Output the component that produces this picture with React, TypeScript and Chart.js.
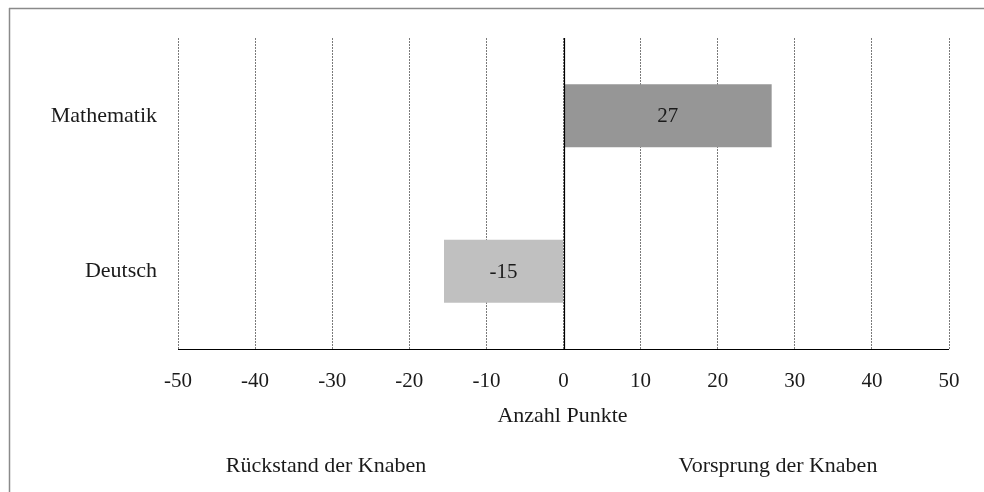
import React, { useEffect, useRef } from "react";
import { Chart, registerables } from "chart.js";

Chart.register(...registerables);

const categories = ["Mathematik", "Deutsch"];
const values = [27, -15.5];
const valueLabels = ["27", "-15"];
const barColors = ["#969696", "#c0c0c0"];
const xTicks = [-50, -40, -30, -20, -10, 0, 10, 20, 30, 40, 50];
const axisTitle = "Anzahl Punkte";
const leftNote = "Rückstand der Knaben";
const rightNote = "Vorsprung der Knaben";

const FONT_FAMILY = "'Liberation Serif', 'DejaVu Serif', serif";
const TICK_SIZE = 21;
const TEXT_SIZE = 22;

export default function App() {
  const ref = useRef<HTMLCanvasElement | null>(null);

  useEffect(() => {
    if (!ref.current) return;

    const extras = {
      id: "extras",
      beforeDraw(chart: any) {
        const ctx = chart.ctx;
        ctx.save();
        ctx.fillStyle = "#ffffff";
        ctx.fillRect(0, 0, chart.width, chart.height);
        ctx.strokeStyle = "#8a8a8a";
        ctx.lineWidth = 1.5;
        ctx.beginPath();
        ctx.moveTo(9, 8.5);
        ctx.lineTo(chart.width, 8.5);
        ctx.moveTo(9.5, 8);
        ctx.lineTo(9.5, chart.height);
        ctx.stroke();
        ctx.restore();
      },
      afterDatasetsDraw(chart: any) {
        const ctx = chart.ctx;
        const xs = chart.scales.x;
        const area = chart.chartArea;
        ctx.save();
        const x0 = Math.round(xs.getPixelForValue(0)) + 0.5;
        ctx.strokeStyle = "#000000";
        ctx.lineWidth = 1.2;
        ctx.beginPath();
        ctx.moveTo(x0, area.top);
        ctx.lineTo(x0, area.bottom);
        ctx.stroke();
        ctx.beginPath();
        ctx.moveTo(area.left, Math.round(area.bottom) + 0.5);
        ctx.lineTo(area.right, Math.round(area.bottom) + 0.5);
        ctx.stroke();

        ctx.font = `${TICK_SIZE}px ${FONT_FAMILY}`;
        ctx.fillStyle = "#1a1a1a";
        ctx.textAlign = "center";
        ctx.textBaseline = "middle";
        const meta = chart.getDatasetMeta(0);
        meta.data.forEach((el: any, i: number) => {
          const cx = (el.x + el.base) / 2;
          ctx.fillText(valueLabels[i], cx, el.y + 1);
        });

        ctx.font = `${TEXT_SIZE}px ${FONT_FAMILY}`;
        ctx.textBaseline = "alphabetic";
        ctx.fillText(axisTitle, (area.left + area.right) / 2 - 1, 422);
        ctx.fillText(leftNote, 326, 472);
        ctx.fillText(rightNote, 778, 472);
        ctx.restore();
      },
    };

    const chart = new Chart(ref.current, {
      type: "bar",
      data: {
        labels: categories,
        datasets: [
          {
            data: values,
            backgroundColor: barColors,
            borderWidth: 0,
            barPercentage: 0.405,
            categoryPercentage: 1,
          },
        ],
      },
      options: {
        indexAxis: "y",
        animation: false,
        responsive: false,
        maintainAspectRatio: false,
        layout: { padding: { top: 38, right: 35, left: 0, bottom: 0 } },
        plugins: {
          legend: { display: false },
          tooltip: { enabled: false },
        },
        scales: {
          x: {
            type: "linear",
            min: -50,
            max: 50,
            afterBuildTicks: (s: any) => {
              s.ticks = xTicks.map((v) => ({ value: v }));
            },
            afterFit: (s: any) => {
              s.height = 143;
            },
            ticks: {
              font: { family: FONT_FAMILY, size: TICK_SIZE },
              color: "#1a1a1a",
              padding: 20,
              maxRotation: 0,
              autoSkip: false,
            },
            grid: {
              color: "#7a7a7a",
              lineWidth: 1,
              drawTicks: false,
            },
            border: { display: false, dash: [2, 1] },
          },
          y: {
            afterFit: (s: any) => {
              s.width = 178;
            },
            ticks: {
              font: { family: FONT_FAMILY, size: TEXT_SIZE },
              color: "#1a1a1a",
              padding: 21,
            },
            grid: { display: false, drawTicks: false },
            border: { display: false },
          },
        },
      },
      plugins: [extras],
    });

    return () => chart.destroy();
  }, []);

  return (
    <div style={{ position: "absolute", left: 0, top: 0, width: 984, height: 492 }}>
      <canvas ref={ref} width={984} height={492} style={{ display: "block" }} />
    </div>
  );
}
